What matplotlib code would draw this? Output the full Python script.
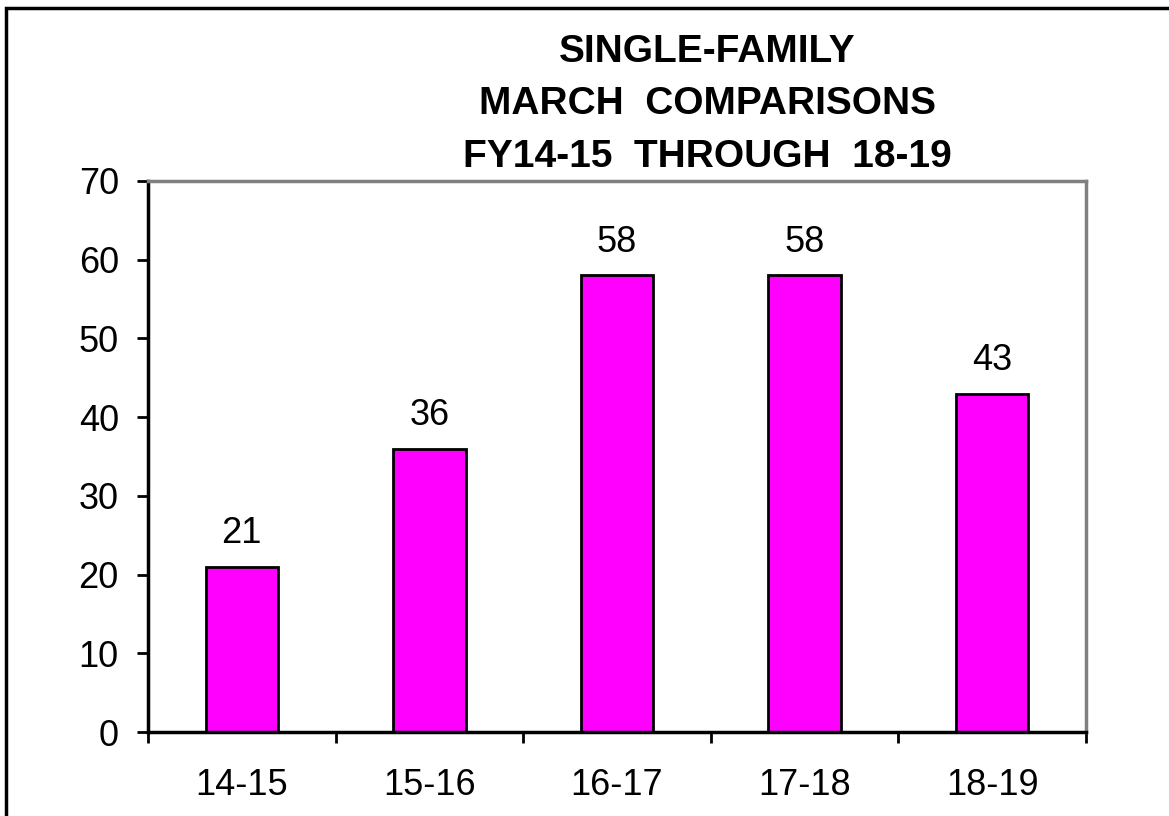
import matplotlib.pyplot as plt
from matplotlib.patches import Rectangle

years = ['14-15', '15-16', '16-17', '17-18', '18-19']
counts = [21, 36, 58, 58, 43]
yticks = [0, 10, 20, 30, 40, 50, 60, 70]

plt.rcParams['font.family'] = ['Liberation Sans', 'DejaVu Sans']

fig = plt.figure(figsize=(11.69, 8.16), dpi=100)
ax = fig.add_axes([0.1266, 0.1029, 0.8024, 0.6753])

x = list(range(len(years)))
ax.bar(x, counts, width=0.385, color='#FF00FF', edgecolor='black', linewidth=2)

for xi, v in zip(x, counts):
    ax.annotate(str(v), (xi, v), xytext=(0, 11), textcoords='offset points',
                ha='center', va='bottom', fontsize=26)

ax.set_xlim(-0.5, 4.5)
ax.set_ylim(0, 70)
ax.set_yticks(yticks)
ax.tick_params(axis='y', labelsize=26, length=8, width=2, direction='out', pad=13)

# categories sit between the ticks
ax.set_xticks([i - 0.5 for i in range(len(years) + 1)])
ax.set_xticklabels([])
ax.set_xticks(x, minor=True)
ax.set_xticklabels(years, minor=True)
ax.tick_params(axis='x', which='major', length=8, width=2, direction='out')
ax.tick_params(axis='x', which='minor', length=0, labelsize=26, pad=26)

for s in ['left', 'bottom']:
    ax.spines[s].set_color('black')
    ax.spines[s].set_linewidth(2.5)
for s in ['top', 'right']:
    ax.spines[s].set_color('#808080')
    ax.spines[s].set_linewidth(2.5)

fig.text(0.605, 0.872, 'SINGLE-FAMILY\nMARCH  COMPARISONS\nFY14-15  THROUGH  18-19',
         ha='center', va='center', fontsize=28, fontweight='bold', linespacing=1.6)

fig.patches.append(Rectangle((0.005, -0.1), 1.2, 1.09, transform=fig.transFigure,
                             fill=False, edgecolor='black', linewidth=2.5))

fig.savefig('out.png', dpi=100)
